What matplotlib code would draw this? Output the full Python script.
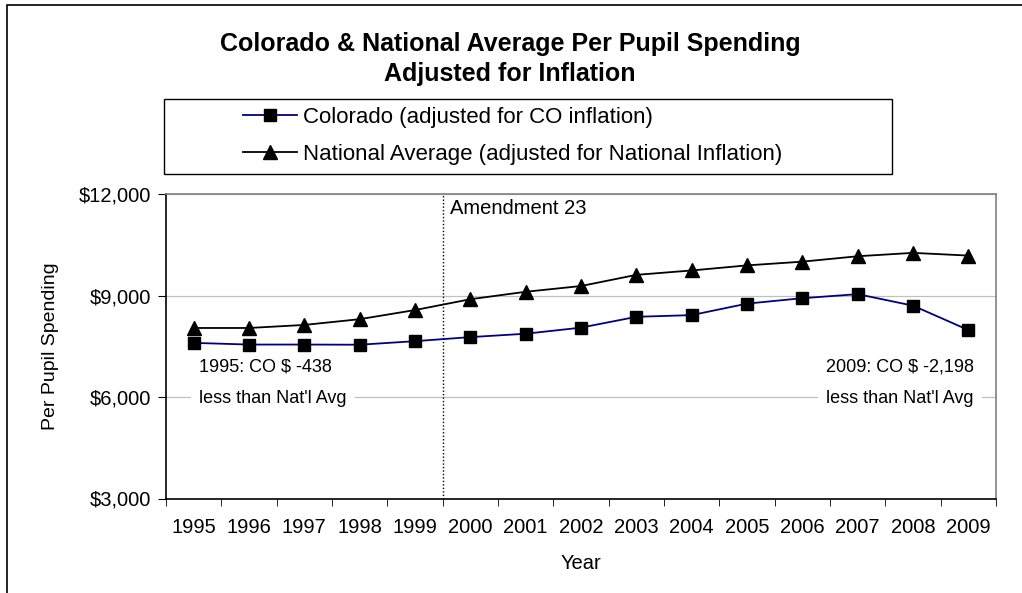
import matplotlib
matplotlib.use("Agg")
import matplotlib.pyplot as plt
from matplotlib.patches import Rectangle
import numpy as np

plt.rcParams['font.family'] = ['Liberation Sans', 'DejaVu Sans']

years = ['1995', '1996', '1997', '1998', '1999', '2000', '2001', '2002',
         '2003', '2004', '2005', '2006', '2007', '2008', '2009']
colorado = [7600, 7550, 7550, 7545, 7650, 7770, 7870, 8050, 8370, 8420,
            8760, 8920, 9040, 8700, 7980]
national = [8040, 8040, 8130, 8300, 8570, 8890, 9110, 9280, 9610, 9740,
            9890, 10000, 10160, 10260, 10180]
yticks = [3000, 6000, 9000, 12000]
ytick_labels = ['$3,000', '$6,000', '$9,000', '$12,000']
co_label = 'Colorado (adjusted for CO inflation)'
nat_label = 'National Average (adjusted for National Inflation)'

W, H = 1022, 593
fig = plt.figure(figsize=(W / 100, H / 100), dpi=100)

def fx(px):
    return px / W

def fy(py):
    return 1 - py / H

# outer frame (only top/left visible in reference)
fig.patches.append(Rectangle((fx(7), -0.2), 1.5, fy(5) + 0.2, transform=fig.transFigure,
                             fill=False, edgecolor='black', linewidth=1.2))

ax = fig.add_axes([fx(166), fy(498.5), fx(996) - fx(166), fy(194) - fy(498.5)])
x = np.arange(len(years))

ax.plot(x, colorado, color='#000080', linewidth=1.3, marker='s', markersize=8.3,
        markerfacecolor='black', markeredgecolor='black', label=co_label, zorder=4)
ax.plot(x, national, color='black', linewidth=1.3, marker='^', markersize=9.5,
        markerfacecolor='black', markeredgecolor='black', label=nat_label, zorder=4)

ax.set_xlim(-0.5, len(years) - 0.5)
ax.set_ylim(3000, 12000)
ax.set_yticks(yticks)
ax.set_yticklabels(ytick_labels, fontsize=14.5)
ax.set_xticks(x)
ax.set_xticklabels(years, fontsize=14.5)
ax.set_xticks(np.arange(-0.5, len(years), 1.0), minor=True)
ax.tick_params(axis='x', which='major', length=0, pad=14)
ax.tick_params(axis='x', which='minor', length=5, direction='out', color='black')
ax.tick_params(axis='y', which='major', length=6, direction='out', pad=5)
ax.grid(axis='y', color='#c0c0c0', linewidth=0.9)
ax.set_axisbelow(True)
for s in ['top', 'right']:
    ax.spines[s].set_color('#808080')
    ax.spines[s].set_linewidth(1.2)
for s in ['left', 'bottom']:
    ax.spines[s].set_color('black')
    ax.spines[s].set_linewidth(1.2)

ax.set_ylabel('Per Pupil Spending', fontsize=14, labelpad=14)
ax.set_xlabel('Year', fontsize=14.5, labelpad=12)

# Amendment 23 marker
ax.axvline(4.5, color='black', linestyle=(0, (1, 1.5)), linewidth=1.0, zorder=3)
ax.text(4.64, 11560, 'Amendment 23', fontsize=14.5, ha='left', va='center')

box = dict(facecolor='white', edgecolor='none', pad=6)
ax.text(0.1, 6900, '1995: CO $ -438', fontsize=13, ha='left', va='center')
ax.text(0.1, 5950, "less than Nat'l Avg", fontsize=13, ha='left',
        va='center', bbox=box)
ax.text(14.1, 6900, '2009: CO $ -2,198', fontsize=13, ha='right', va='center')
ax.text(14.1, 5950, "less than Nat'l Avg", fontsize=13, ha='right',
        va='center', bbox=box)

# titles
fig.text(fx(510), fy(44), 'Colorado & National Average Per Pupil Spending',
         fontsize=18, fontweight='bold', ha='center', va='center')
fig.text(fx(510), fy(74), 'Adjusted for Inflation',
         fontsize=18, fontweight='bold', ha='center', va='center')

# legend box
fig.patches.append(Rectangle((fx(164), fy(174)), fx(892) - fx(164), fy(99) - fy(174),
                             transform=fig.transFigure, fill=False,
                             edgecolor='black', linewidth=1.0))
handles, labels = ax.get_legend_handles_labels()
fig.legend(handles, labels, loc='upper left', bbox_to_anchor=(fx(243), fy(107)),
           frameon=False, fontsize=16, borderpad=0, borderaxespad=0,
           handlelength=2.43, handletextpad=0.27, labelspacing=0.73)

fig.savefig('out.png', dpi=100)
